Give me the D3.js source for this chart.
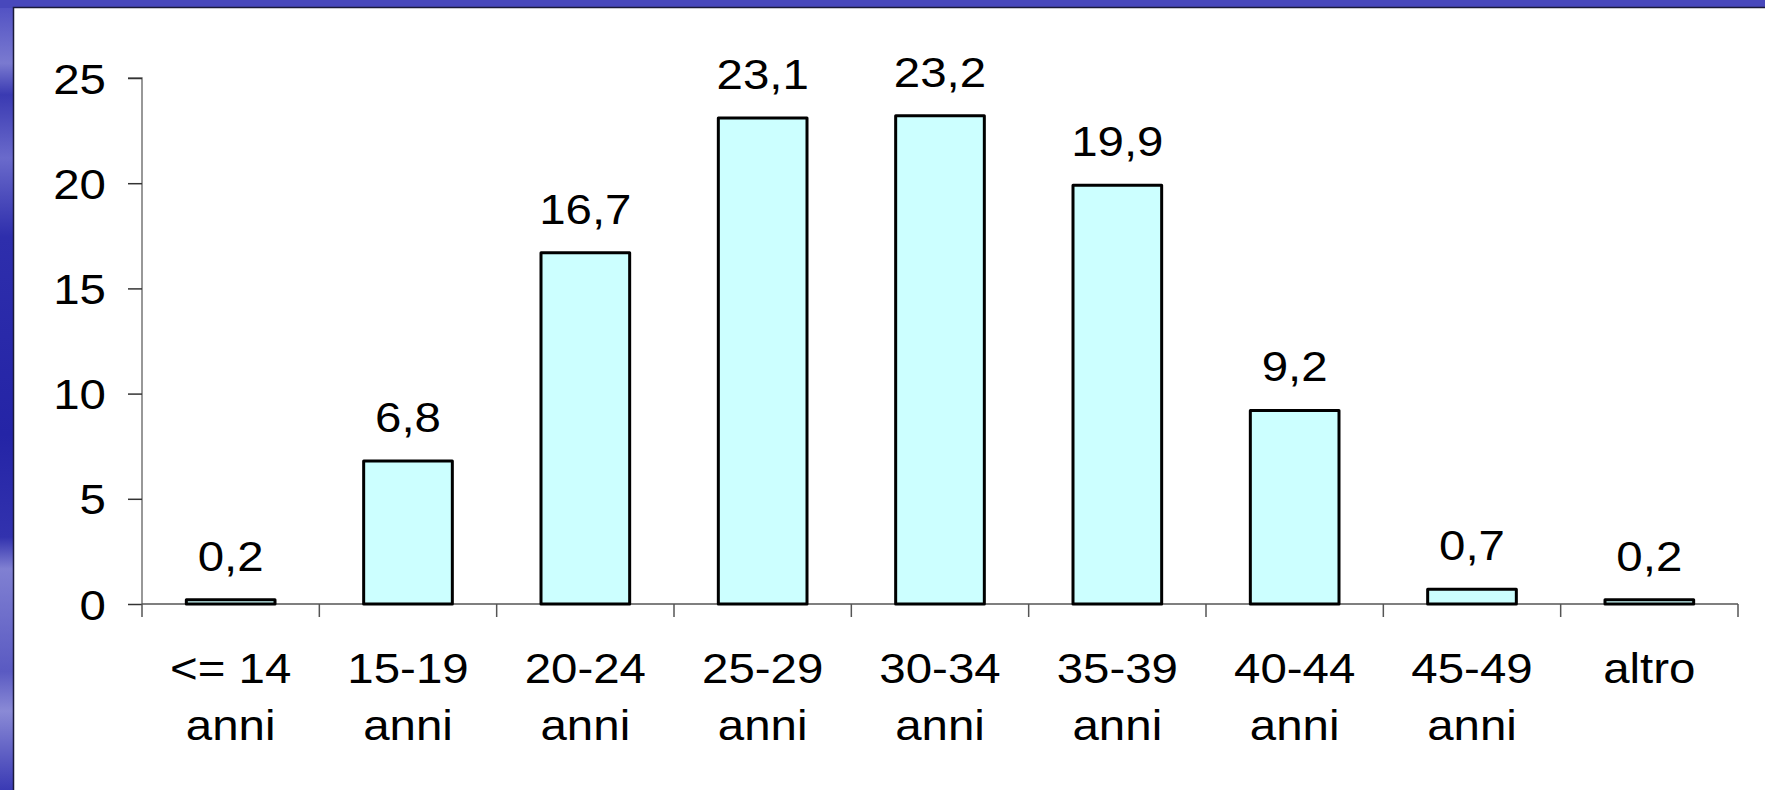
<!DOCTYPE html>
<html>
<head>
<meta charset="utf-8">
<script src="https://cdn.jsdelivr.net/npm/d3@7/dist/d3.min.js"></script>
<style>
  html, body { margin: 0; padding: 0; background: #fff; }
  svg { display: block; }
</style>
</head>
<body>
<svg id="chart" width="1765" height="790"></svg>
<script>
const categories = ["<= 14 anni", "15-19 anni", "20-24 anni", "25-29 anni", "30-34 anni", "35-39 anni", "40-44 anni", "45-49 anni", "altro"];
const categoryLines = [["<= 14", "anni"], ["15-19", "anni"], ["20-24", "anni"], ["25-29", "anni"], ["30-34", "anni"], ["35-39", "anni"], ["40-44", "anni"], ["45-49", "anni"], ["altro"]];
const values = [0.2, 6.8, 16.7, 23.1, 23.2, 19.9, 9.2, 0.7, 0.2];
const valueLabels = ["0,2", "6,8", "16,7", "23,1", "23,2", "19,9", "9,2", "0,7", "0,2"];
const yTicks = [0, 5, 10, 15, 20, 25];

const W = 1765, H = 790;
const svg = d3.select("#chart");
const FONT = "'Liberation Sans', Arial, sans-serif";
const FS = 42;
const SX = 1.13;

// background frame
const defs = svg.append("defs");
const lg = defs.append("linearGradient").attr("id", "leftGrad").attr("x1", 0).attr("y1", 0).attr("x2", 0).attr("y2", 1);
[[0, "#4d4dc2"], [0.08, "#7a7ad0"], [0.12, "#3a3ab2"], [0.2, "#6a6acb"], [0.3, "#2e2eac"], [0.55, "#2424a6"], [0.68, "#3232ae"], [0.72, "#8080d2"], [0.85, "#5a5ac2"], [0.9, "#8a8ad6"], [1, "#3a3ab4"]]
  .forEach(([o, c]) => lg.append("stop").attr("offset", o).attr("stop-color", c));
svg.append("rect").attr("x", 0).attr("y", 0).attr("width", W).attr("height", H).attr("fill", "url(#leftGrad)");
svg.append("rect").attr("x", 0).attr("y", 0).attr("width", W).attr("height", 8).attr("fill", "#4848bc");
svg.append("rect").attr("x", 13).attr("y", 8).attr("width", W - 13).attr("height", H - 8).attr("fill", "#ffffff");
svg.append("path").attr("d", `M13.5,${H} V7.5 H${W}`).attr("fill", "none").attr("stroke", "#1a1a3a").attr("stroke-width", 1.5);

const x0 = 142, x1 = 1738, yTop = 78, yBase = 604;
const x = d3.scaleBand().domain(categories).range([x0, x1]).paddingInner(0.5).paddingOuter(0.25);
const y = d3.scaleLinear().domain([0, 25]).range([yBase, yTop]);

const g = svg.append("g");

// y axis
const yAxis = g.append("g").attr("transform", `translate(${x0},0)`)
  .call(d3.axisLeft(y).tickValues(yTicks).tickSize(14).tickPadding(0).tickFormat(d3.format("d")));
yAxis.select(".domain").attr("stroke", "#777").attr("stroke-width", 1.5).attr("d", `M-14,${yTop}H0V${yBase}`);
yAxis.selectAll(".tick line").attr("stroke", "#333").attr("stroke-width", 1.5);
yAxis.selectAll(".tick text").remove();
yAxis.selectAll(".tick").append("text")
  .attr("transform", `translate(-36,15) scale(${SX},1)`)
  .attr("text-anchor", "end").attr("fill", "#000")
  .style("font-family", FONT).style("font-size", FS + "px")
  .text(d => d);

// x axis
const bandStep = x.step();
const xAxisG = g.append("g").attr("transform", `translate(0,${yBase})`);
xAxisG.append("line").attr("x1", x0).attr("x2", x1).attr("stroke", "#555").attr("stroke-width", 1.5);
const boundaries = categories.map(c => x(c) - x.bandwidth() / 2 - (bandStep - x.bandwidth()) / 2 + x.bandwidth() / 2);
const tickXs = categories.map((c, i) => x0 + i * bandStep).concat([x1]);
xAxisG.selectAll("line.tk").data(tickXs).join("line").attr("class", "tk")
  .attr("x1", d => d).attr("x2", d => d).attr("y1", 0).attr("y2", 13)
  .attr("stroke", "#555").attr("stroke-width", 1.5);

// category labels
const catG = g.append("g");
categories.forEach((c, i) => {
  const cx = x(c) + x.bandwidth() / 2;
  categoryLines[i].forEach((line, j) => {
    catG.append("text")
      .attr("transform", `translate(${cx},${683 + j * 57}) scale(${SX},1)`)
      .attr("text-anchor", "middle").attr("fill", "#000")
      .style("font-family", FONT).style("font-size", FS + "px")
      .text(line);
  });
});

// bars
g.selectAll("rect.bar").data(values).join("rect").attr("class", "bar")
  .attr("x", (d, i) => x(categories[i]))
  .attr("width", x.bandwidth())
  .attr("y", d => y(d))
  .attr("height", d => yBase - y(d))
  .attr("fill", "#ccffff")
  .attr("stroke", "#000").attr("stroke-width", 3).attr("stroke-linejoin", "round");

// value labels
g.selectAll("text.val").data(values).join("text").attr("class", "val")
  .attr("transform", (d, i) => `translate(${x(categories[i]) + x.bandwidth() / 2},${y(d) - 29}) scale(${SX},1)`)
  .attr("text-anchor", "middle").attr("fill", "#000")
  .style("font-family", FONT).style("font-size", FS + "px")
  .text((d, i) => valueLabels[i]);
</script>
</body>
</html>
